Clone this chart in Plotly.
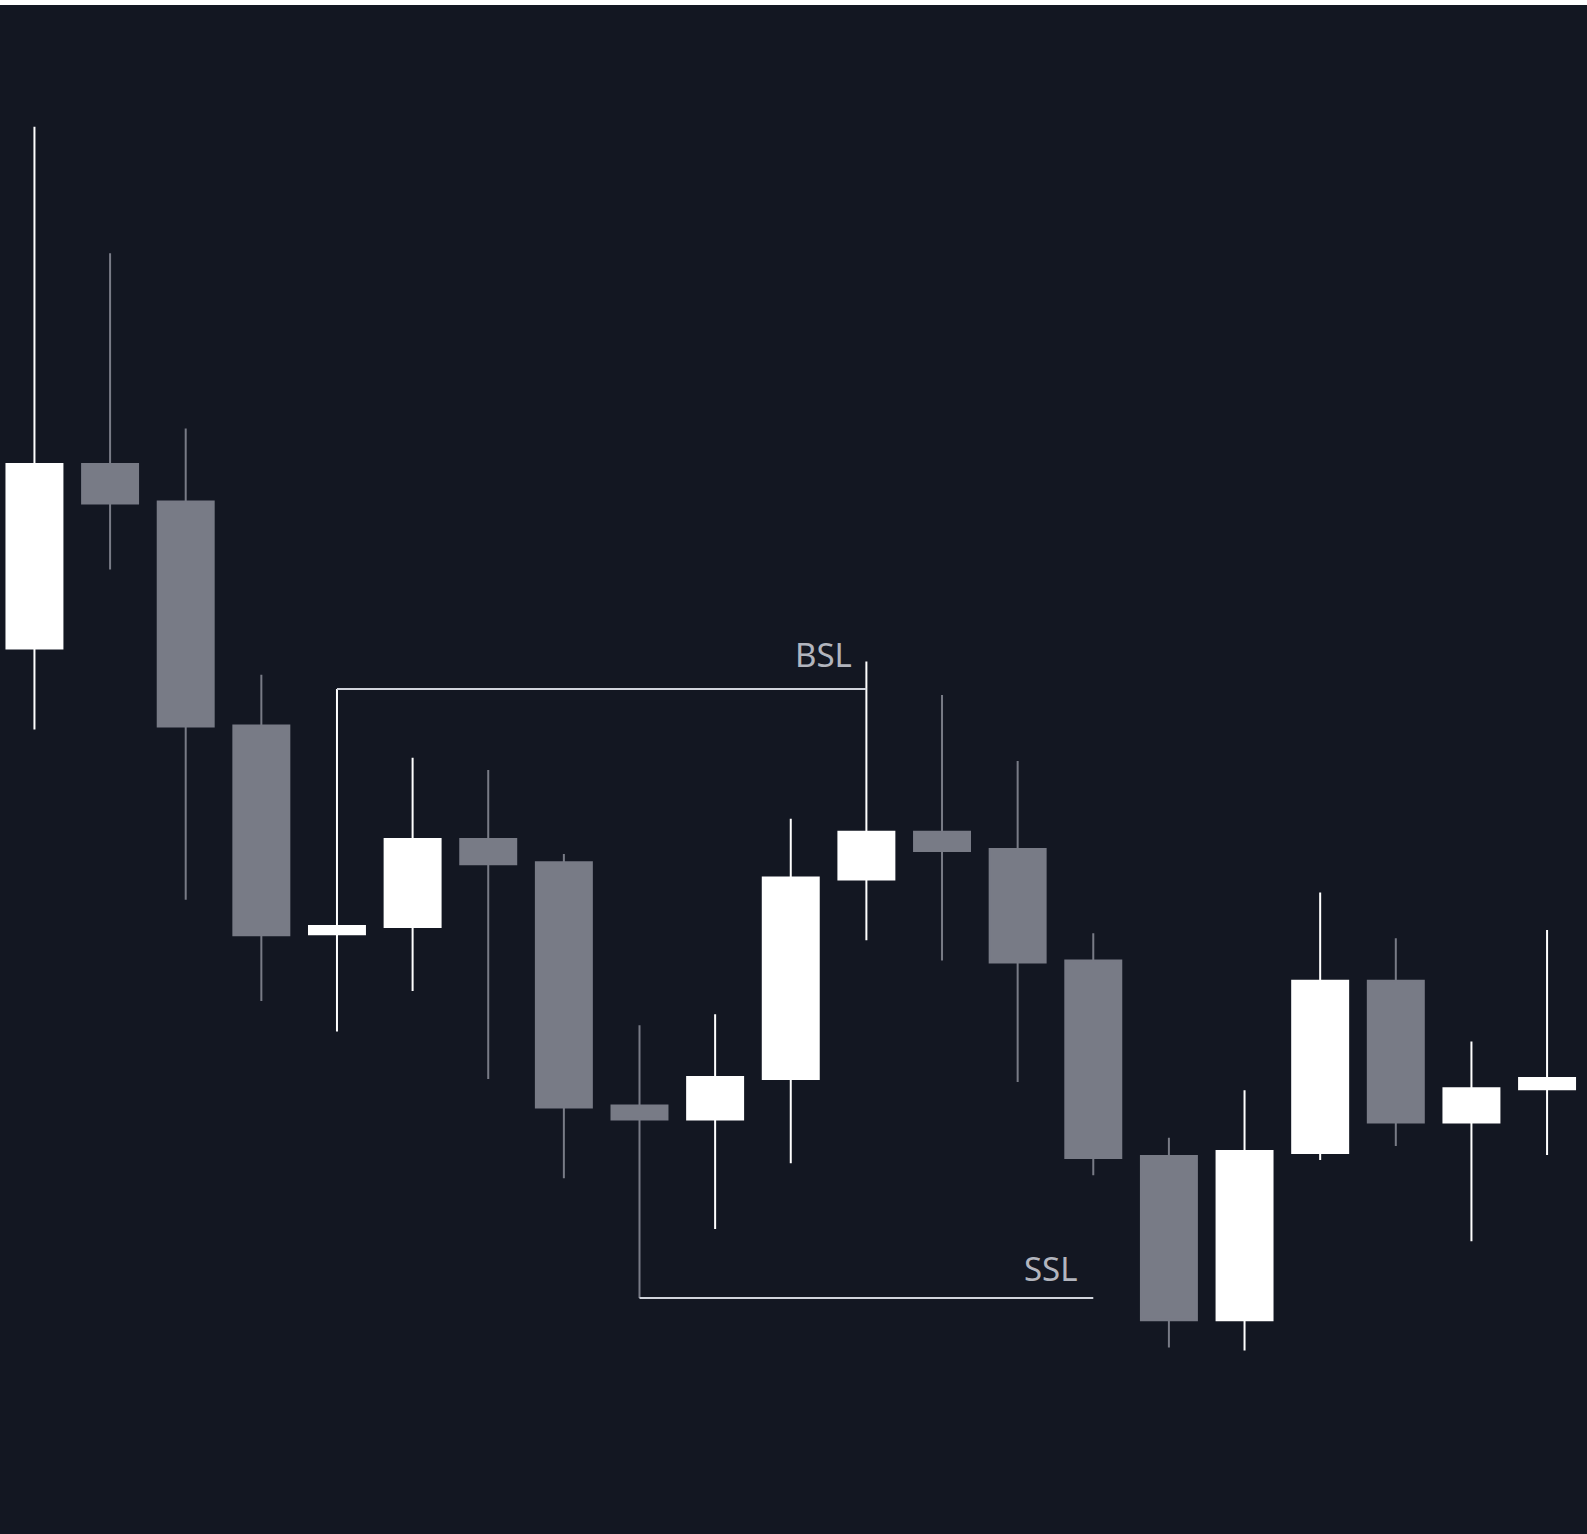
import plotly.graph_objects as go

# Candle data (price units)
idx = list(range(21))
opens  = [894, 1076, 1039, 818, 612, 619, 706, 683, 443, 429, 469, 666, 713, 696, 586, 393, 231, 396, 566, 426, 459]
highs  = [1409, 1284, 1111, 868, 854, 786, 774, 691, 522, 533, 726, 881, 848, 783, 613, 411, 458, 653, 608, 506, 616]
lows   = [814, 972, 646, 546, 516, 556, 469, 371, 253, 321, 386, 606, 586, 466, 374, 204, 201, 389, 403, 309, 394]
closes = [1076, 1037, 817, 611, 620, 706, 681, 441, 429, 471, 668, 713, 694, 584, 391, 231, 398, 566, 426, 460, 470]

# Liquidity levels
bsl_label = "BSL"
bsl_start, bsl_end = 4, 11          # swing high candle -> sweep candle
ssl_label = "SSL"
ssl_start, ssl_end = 8, 14          # swing low candle -> line end

BG = "#131722"
BULL = "#ffffff"
BEAR = "#787b86"
LINE = "#d1d4dc"
TEXT = "#b2b5be"

fig = go.Figure()
fig.add_trace(go.Candlestick(
    x=idx, open=opens, high=highs, low=lows, close=closes,
    increasing=dict(line=dict(color=BULL, width=2), fillcolor=BULL),
    decreasing=dict(line=dict(color=BEAR, width=2), fillcolor=BEAR),
    whiskerwidth=0, showlegend=False, hoverinfo="skip",
))

bsl_level = highs[bsl_start]
ssl_level = lows[ssl_start]
fig.add_shape(type="line", xref="x", yref="y", x0=bsl_start, x1=bsl_end,
              y0=bsl_level, y1=bsl_level, line=dict(color=LINE, width=2))
fig.add_shape(type="line", xref="x", yref="y", x0=ssl_start, x1=ssl_end,
              y0=ssl_level, y1=ssl_level, line=dict(color=LINE, width=2))

fig.add_annotation(x=bsl_end - 0.16, y=bsl_level + 34, xref="x", yref="y",
                   text=bsl_label, showarrow=False, xanchor="right", yanchor="middle",
                   font=dict(family="Noto Sans", size=33, color=TEXT))
fig.add_annotation(x=ssl_end - 0.17, y=ssl_level + 29, xref="x", yref="y",
                   text=ssl_label, showarrow=False, xanchor="right", yanchor="middle",
                   font=dict(family="Noto Sans", size=33, color=TEXT))

fig.update_layout(
    width=1587, height=1534,
    margin=dict(l=0, r=0, t=5, b=0),
    paper_bgcolor="#ffffff", plot_bgcolor=BG,
    boxgap=0.26, boxgroupgap=0,
    xaxis=dict(range=[-0.4555, 20.528], visible=False, rangeslider=dict(visible=False),
               fixedrange=True),
    yaxis=dict(range=[19.96, 1529.07], visible=False, fixedrange=True),
    showlegend=False,
)

fig.write_html("out.html", config={"displayModeBar": False},
               post_script="document.body.style.margin='0';document.body.style.overflow='hidden';")
